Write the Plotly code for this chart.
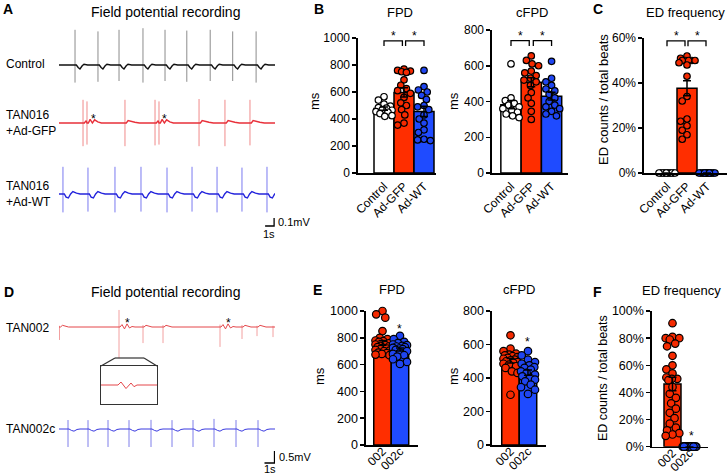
import numpy as np
import plotly.graph_objects as go

W, H = 728, 476
FONT = "Liberation Sans, Arial, Helvetica, sans-serif"

# ---------------- data: panel A recordings (time in s, amplitude in mV) ----------------
ctrl_beats = [1.78, 4.33, 6.67, 9.33, 11.78, 14.2, 16.8, 19.3, 21.9]
ctrl_up = [0.44, 0.42, 0.44, 0.46, 0.44, 0.43, 0.44, 0.42, 0.42]
ctrl_down = [0.22, 0.21, 0.20, 0.22, 0.20, 0.21, 0.20, 0.20, 0.22]
gfp_beats = [2.67, 3.11, 7.33, 10.67, 11.11, 15.56, 18.44, 21.22]
gfp_up = [0.29, 0.27, 0.29, 0.29, 0.27, 0.30, 0.29, 0.29]
gfp_down = [0.29, 0.27, 0.29, 0.28, 0.27, 0.29, 0.29, 0.28]
gfp_ed = [3.11, 11.11]
wt_beats = [0.44, 3.22, 6.22, 9.11, 12.0, 14.78, 17.56, 20.33, 23.11]
wt_up = [0.34, 0.33, 0.34, 0.34, 0.33, 0.34, 0.34, 0.33, 0.34]
wt_down = [0.23, 0.22, 0.23, 0.22, 0.23, 0.22, 0.23, 0.22, 0.23]
# repolarisation waves after each spike: (seconds after spike, mV)
ctrl_wave = [(0.15, 0.0), (0.35, -0.03), (0.55, -0.05), (0.8, -0.01), (1.0, 0.01), (1.4, 0.0)]
gfp_wave = [(0.15, 0.0), (0.35, 0.03), (0.7, 0.025), (1.1, 0.01), (1.6, 0.0)]
gfp_ed_wave = [(0.15, 0.0), (0.35, 0.045), (0.6, 0.0), (0.85, 0.04), (1.2, 0.015), (1.6, 0.0)]
wt_wave = [(0.15, 0.0), (0.35, -0.04), (0.6, -0.05), (0.85, 0.0), (1.1, 0.03), (1.5, 0.01), (1.9, 0.0)]

# ---------------- data: panel D recordings ----------------
d002_beats = [0.05, 6.0, 8.4, 10.4, 16.1, 18.3, 19.8, 21.4]
d002_up = [0.05, 0.71, 0.08, 0.08, 0.10, 0.08, 0.05, 0.05]
d002_down = [0.54, 1.30, 0.67, 0.67, 0.83, 0.50, 0.38, 0.42]
d002_ed = [6.0, 16.1]
d002_wave = [(0.1, 0.0), (0.3, 0.07), (0.6, 0.05), (0.9, 0.0)]
d002_ed_wave = [(0.1, 0.0), (0.3, 0.1), (0.55, -0.08), (0.8, 0.13), (1.05, -0.04), (1.3, 0.02), (1.6, 0.0)]
d002c_beats = [0.9, 2.9, 4.9, 7.0, 9.2, 11.3, 13.4, 15.5, 17.7, 19.9]
d002c_up = [0.375, 0.37, 0.375, 0.37, 0.38, 0.37, 0.375, 0.42, 0.375, 0.37]
d002c_down = [1.08, 1.05, 1.08, 1.06, 1.08, 1.05, 1.08, 1.06, 1.08, 1.05]
d002c_wave = [(0.1, 0.0), (0.35, -0.06), (0.6, -0.09), (0.9, -0.02), (1.2, 0.0)]
# magnified inset (ms, mV)
inset_t = [0, 170, 200, 250, 300, 330, 360, 560]
inset_v = [0.0, 0.0, 0.063, -0.075, 0.042, -0.035, 0.0, 0.0]

# ---------------- data: bar panels ----------------
cat3 = ["Control", "Ad-GFP", "Ad-WT"]
cat2 = ["002", "002c"]
fpd_ctrl = [565, 540, 510, 495, 485, 480, 470, 465, 455, 450, 440, 425, 420]
fpd_gfp = [770, 760, 755, 750, 745, 690, 650, 625, 610, 590, 560, 520, 500, 470, 430, 370, 355]
fpd_wt = [760, 640, 615, 600, 575, 545, 500, 490, 470, 430, 400, 370, 320, 300, 250, 245, 240]
cfpd_ctrl = [610, 420, 405, 390, 380, 370, 360, 350, 340, 330, 320, 310]
cfpd_gfp = [655, 630, 610, 600, 570, 560, 545, 530, 520, 510, 490, 450, 420, 390, 345, 300]
cfpd_wt = [625, 530, 510, 490, 470, 460, 440, 420, 400, 380, 370, 360, 345, 330, 320]
ed_ctrl = [0] * 12
ed_gfp = [52, 51, 50, 50, 50, 50, 50, 49, 48, 43, 34, 32, 24, 23, 21, 19, 17, 15]
ed_wt = [0] * 15
fpd_002 = [1000, 975, 950, 850, 800, 790, 780, 775, 770, 760, 750, 745, 740, 735, 730,
           725, 720, 715, 710, 705, 700, 690, 685, 680, 675, 670]
fpd_002c = [815, 790, 770, 760, 750, 745, 740, 735, 730, 725, 720, 715, 710, 700, 690,
            680, 670, 660, 640, 620, 605]
cfpd_002 = [655, 575, 560, 545, 540, 535, 530, 525, 520, 515, 510, 505, 500, 495, 490,
            485, 480, 470, 460, 440, 430, 300]
cfpd_002c = [560, 535, 510, 495, 485, 475, 465, 460, 450, 440, 430, 420, 410, 400, 390,
             380, 360, 345, 330, 305]
ed_002 = [91, 81, 80, 80, 79, 76, 74, 67, 60, 57, 54, 51, 50, 50, 49, 44, 39, 36, 32, 28,
          25, 21, 17, 14, 12, 10, 9, 8]
ed_002c = [0] * 20

# ---------------- styles ----------------
BAR_RED, BAR_BLUE = "#FF2E00", "#1F4BFF"
DOT_RED, DOT_BLUE = "#F52A00", "#1F45F0"


def px_x(a, b):
    return [a / W, b / W]


def px_y(top, bottom):
    return [1 - bottom / H, 1 - top / H]


def trace_yaxis(top, bottom, base, k):
    return dict(domain=px_y(top, bottom), range=[-(bottom - base) / k, (base - top) / k],
                visible=False, fixedrange=True, automargin=False)


def build_waves(beats, wave, T, ed_beats=(), ed_wave=None):
    t, v = [0.0], [0.0]
    for k, t0 in enumerate(beats):
        nxt = beats[k + 1] if k + 1 < len(beats) else T
        t += [t0]
        v += [0.0]
        w = ed_wave if t0 in ed_beats else wave
        for dt, dv in w:
            if t0 + dt < nxt - 0.02:
                t.append(t0 + dt)
                v.append(dv)
    t.append(T)
    v.append(0.0)
    return t, v


def build_spikes(beats, ups, downs):
    t, v = [], []
    for t0, u, d in zip(beats, ups, downs):
        t += [t0, t0, None]
        v += [u, -d, None]
    return t, v


def swarm(vals, ppx_x, ppx_y, diam, maxoff=0.4):
    vals = np.asarray(vals, float)
    order = np.argsort(-vals, kind="stable")
    cands = sorted(np.round(np.arange(-maxoff, maxoff + 1e-9, 0.04), 3), key=lambda c: (abs(c), c))
    placed = []
    offs = np.zeros(len(vals))
    for idx in order:
        yv = vals[idx] * ppx_y
        chosen, bestc, bestd = None, 0.0, -1.0
        for c in cands:
            xv = c * ppx_x
            d = min([np.hypot(xv - a, yv - b) for a, b in placed], default=1e9)
            if d >= diam * 0.95:
                chosen = c
                break
            if d > bestd:
                bestd, bestc = d, c
        if chosen is None:
            chosen = bestc
        offs[idx] = chosen
        placed.append((chosen * ppx_x, yv))
    return offs


fig = go.Figure()
layout = dict(template="none", width=W, height=H, autosize=False,
              margin=dict(l=0, r=0, t=0, b=0, pad=0, autoexpand=False), showlegend=False,
              paper_bgcolor="white", plot_bgcolor="white",
              font=dict(family=FONT, color="black", size=12))
annotations, shapes = [], []


def ann(x, y, text, size=12, bold=False, xanchor="center", yanchor="middle", angle=0, **kw):
    annotations.append(dict(x=x / W, y=1 - y / H, xref="paper", yref="paper",
                            text=("<b>%s</b>" % text) if bold else text,
                            showarrow=False, xanchor=xanchor, yanchor=yanchor, textangle=angle,
                            borderpad=0, font=dict(size=size, family=FONT, color="black"), **kw))


def add_recording(beats, ups, downs, wave, xa, ya, T, base_col, spike_col, width, edb=(), edw=None):
    t, v = build_spikes(beats, ups, downs)
    fig.add_trace(go.Scatter(x=t, y=v, mode="lines", line=dict(color=spike_col, width=1.0),
                             xaxis=xa, yaxis=ya, hoverinfo="skip", connectgaps=False))
    t, v = build_waves(beats, wave, T, edb, edw)
    fig.add_trace(go.Scatter(x=t, y=v, mode="lines", line=dict(color=base_col, width=width),
                             xaxis=xa, yaxis=ya, hoverinfo="skip"))


# ---------------- Panel A ----------------
TA = 24.0
layout["xaxis"] = dict(domain=px_x(59, 275), range=[0, TA], visible=False, fixedrange=True,
                       anchor="y", automargin=False)
layout["yaxis"] = trace_yaxis(25, 90, 65, 80)
layout["yaxis2"] = dict(trace_yaxis(95, 152, 123, 80), anchor="x")
layout["yaxis3"] = dict(trace_yaxis(160, 215, 194, 80), anchor="x")
layout["yaxis4"] = dict(trace_yaxis(214, 230, 226, 80), anchor="x")
add_recording(ctrl_beats, ctrl_up, ctrl_down, ctrl_wave, "x", "y", TA, "#111111", "#8C8C8C", 1.4)
add_recording(gfp_beats, gfp_up, gfp_down, gfp_wave, "x", "y2", TA, "#E8303A", "#F08A8A", 1.4,
              gfp_ed, gfp_ed_wave)
add_recording(wt_beats, wt_up, wt_down, wt_wave, "x", "y3", TA, "#2424DC", "#7A7AF0", 1.4)
fig.add_trace(go.Scatter(x=[TA - 1.1, TA - 0.1, TA - 0.1], y=[0, 0, 0.1], mode="lines",
                         line=dict(color="black", width=1.3), xaxis="x", yaxis="y4"))
for te in [3.78, 11.67]:
    annotations.append(dict(x=te, y=0.0875, xref="x", yref="y2", text="*", showarrow=False,
                            yshift=-3, font=dict(size=12, family=FONT, color="black")))
ann(277, 222, "0.1mV", size=11, xanchor="left")
ann(269, 234, "1s", size=11)
ann(2, 9, "A", size=14, bold=True, xanchor="left")
ann(165, 12, "Field potential recording", size=14)
ann(5, 64, "Control", xanchor="left")
ann(5, 123, "TAN016<br>+Ad-GFP", xanchor="left", align="left")
ann(5, 194, "TAN016<br>+Ad-WT", xanchor="left", align="left")

# ---------------- Panel D ----------------
TD = 21.6
layout["xaxis2"] = dict(domain=px_x(59, 275), range=[0, TD], visible=False, fixedrange=True,
                        anchor="y5", automargin=False)
layout["yaxis5"] = dict(trace_yaxis(300, 365, 327, 24), anchor="x2")
layout["yaxis6"] = dict(trace_yaxis(410, 462, 429, 24), anchor="x2")
layout["yaxis7"] = dict(trace_yaxis(447, 466, 463, 24), anchor="x2")
add_recording(d002_beats, d002_up, d002_down, d002_wave, "x2", "y5", TD, "#E4474B", "#F2A0A0", 1.0,
              d002_ed, d002_ed_wave)
add_recording(d002c_beats, d002c_up, d002c_down, d002c_wave, "x2", "y6", TD, "#3A3AE0", "#7E7EEA", 1.0)
fig.add_trace(go.Scatter(x=[TD - 1.05, TD - 0.05, TD - 0.05], y=[0, 0, 0.5], mode="lines",
                         line=dict(color="black", width=1.3), xaxis="x2", yaxis="y7"))
for te in [6.8, 16.9]:
    annotations.append(dict(x=te, y=0.29, xref="x2", yref="y5", text="*", showarrow=False,
                            yshift=-3, font=dict(size=12, family=FONT, color="black")))
# inset
layout["xaxis3"] = dict(domain=px_x(101, 157), range=[0, 560], showline=True, mirror=True,
                        linecolor="#333333", linewidth=1.2, ticks="", showticklabels=False,
                        showgrid=False, zeroline=False, anchor="y8", fixedrange=True, automargin=False)
layout["yaxis8"] = dict(domain=px_y(366, 404), range=[-0.4, 0.4], showline=True, mirror=True,
                        linecolor="#333333", linewidth=1.2, ticks="", showticklabels=False,
                        showgrid=False, zeroline=False, anchor="x3", fixedrange=True, automargin=False)
fig.add_trace(go.Scatter(x=inset_t, y=inset_v, mode="lines", line=dict(color="#E4474B", width=1.0),
                         xaxis="x3", yaxis="y8", hoverinfo="skip"))
for (a, b, c, d) in [(101, 366, 115, 358), (115, 358, 144, 358), (144, 358, 157, 366)]:
    shapes.append(dict(type="line", xref="paper", yref="paper", x0=a / W, y0=1 - b / H,
                       x1=c / W, y1=1 - d / H, line=dict(color="#333333", width=1.2)))
ann(278, 457, "0.5mV", size=11, xanchor="left")
ann(270, 469, "1s", size=11)
ann(3, 292, "D", size=14, bold=True, xanchor="left")
ann(165, 292, "Field potential recording", size=14)
ann(5, 328, "TAN002", xanchor="left")
ann(5, 429, "TAN002c", xanchor="left")

# ---------------- bar panels ----------------
# stars: (category position, pixel row of the star glyph)
panels = [
    dict(n=4, xdom=(358, 436), ydom=(38, 173), xr=(-1.3, 2.6), yr=(0, 1000), dtick=200,
         groups=[fpd_ctrl, fpd_gfp, fpd_wt], cats=cat3, bars=["white", BAR_RED, BAR_BLUE],
         dots=["white", DOT_RED, DOT_BLUE], diam=6.5, suffix="", fs=12, xfs=12, so=0,
         brackets=[(0, 0.92, 978, 941), (1.08, 2, 978, 941)], stars=[(0.46, 33), (1.54, 33)]),
    dict(n=5, xdom=(492, 568), ydom=(30, 173), xr=(-0.936, 2.81), yr=(0, 800), dtick=200,
         groups=[cfpd_ctrl, cfpd_gfp, cfpd_wt], cats=cat3, bars=["white", BAR_RED, BAR_BLUE],
         dots=["white", DOT_RED, DOT_BLUE], diam=6.5, suffix="", fs=12, xfs=12, so=0,
         brackets=[(0, 0.9, 740, 711), (1.1, 2, 740, 711)], stars=[(0.45, 33), (1.55, 33)]),
    dict(n=6, xdom=(644, 727), ydom=(38, 173), xr=(-1.15, 3.0), yr=(0, 60), dtick=20,
         groups=[ed_ctrl, ed_gfp, ed_wt], cats=cat3, bars=["white", BAR_RED, BAR_BLUE],
         dots=["white", DOT_RED, DOT_BLUE], diam=6.5, suffix="%", fs=12, xfs=12, so=0,
         brackets=[(0, 0.9, 58.7, 56.3), (1.05, 1.95, 58.7, 56.3)], stars=[(0.45, 33), (1.5, 33)]),
    dict(n=7, xdom=(366, 418), ydom=(311, 445), xr=(-0.943, 2.03), yr=(0, 1000), dtick=200,
         groups=[fpd_002, fpd_002c], cats=cat2, bars=[BAR_RED, BAR_BLUE],
         dots=[DOT_RED, DOT_BLUE], diam=7.5, suffix="", fs=12.5, xfs=12, so=-7, brackets=[],
         stars=[(1, 326)]),
    dict(n=8, xdom=(492, 546), ydom=(311, 445), xr=(-1.057, 2.03), yr=(0, 800), dtick=200,
         groups=[cfpd_002, cfpd_002c], cats=cat2, bars=[BAR_RED, BAR_BLUE],
         dots=[DOT_RED, DOT_BLUE], diam=7.5, suffix="", fs=12.5, xfs=12, so=-7, brackets=[],
         stars=[(1, 339)]),
    dict(n=9, xdom=(652, 708), ydom=(311, 446.7), xr=(-1.206, 2.09), yr=(0, 100), dtick=20,
         groups=[ed_002, ed_002c], cats=cat2, bars=[BAR_RED, BAR_BLUE],
         dots=[DOT_RED, DOT_BLUE], diam=7.5, suffix="%", fs=12.5, xfs=12, so=-7, brackets=[],
         stars=[(1.1, 433)]),
]

for p in panels:
    xn, yn = "x%d" % p["n"], "y%d" % (p["n"] + 5)
    xk, yk = "xaxis%d" % p["n"], "yaxis%d" % (p["n"] + 5)
    k = len(p["groups"])
    layout[xk] = dict(domain=px_x(*p["xdom"]), range=list(p["xr"]), anchor=yn, showline=True,
                      linecolor="black", linewidth=1.6, ticks="", showgrid=False, zeroline=False,
                      tickvals=list(range(k)), ticktext=p["cats"], tickangle=-45, automargin=False,
                      ticklabelstandoff=p["so"],
                      tickfont=dict(size=p["xfs"], family=FONT, color="black"), fixedrange=True)
    layout[yk] = dict(domain=px_y(*p["ydom"]), range=list(p["yr"]), anchor=xn, showline=True,
                      linecolor="black", linewidth=1.6, ticks="outside", ticklen=4, tickwidth=1.5,
                      tickcolor="black", dtick=p["dtick"], ticksuffix=p["suffix"], showgrid=False,
                      zeroline=False, tickfont=dict(size=p["fs"], family=FONT, color="black"),
                      fixedrange=True, automargin=False)
    means = [float(np.mean(g)) for g in p["groups"]]
    sems = [float(np.std(g, ddof=1) / np.sqrt(len(g))) for g in p["groups"]]
    fig.add_trace(go.Bar(x=list(range(k)), y=means, width=1.0, xaxis=xn, yaxis=yn,
                         marker=dict(color=p["bars"], line=dict(color="black", width=1.5))))
    ppx_x = (p["xdom"][1] - p["xdom"][0]) / (p["xr"][1] - p["xr"][0])
    ppx_y = (p["ydom"][1] - p["ydom"][0]) / (p["yr"][1] - p["yr"][0])
    for i, g in enumerate(p["groups"]):
        offs = swarm(g, ppx_x, ppx_y, p["diam"])
        fig.add_trace(go.Scatter(x=list(i + offs), y=g, mode="markers", xaxis=xn, yaxis=yn,
                                 cliponaxis=False,
                                 marker=dict(size=p["diam"], color=p["dots"][i],
                                             line=dict(color="black", width=1.2))))
    fig.add_trace(go.Scatter(x=list(range(k)), y=means, mode="markers", xaxis=xn, yaxis=yn,
                             cliponaxis=False, marker=dict(size=1, color="rgba(0,0,0,0)"),
                             error_y=dict(type="data", array=sems, color="black", thickness=1.5, width=4)))
    for (x0, x1, ytop, ytip) in p["brackets"]:
        shapes.append(dict(type="path", xref=xn, yref=yn,
                           path="M %g,%g L %g,%g L %g,%g L %g,%g" % (x0, ytip, x0, ytop, x1, ytop, x1, ytip),
                           line=dict(color="black", width=1.3)))
    for (sx, sy) in p["stars"]:
        ann(p["xdom"][0] + (sx - p["xr"][0]) * ppx_x, sy, "*", size=12, yshift=-3)

# panel titles / letters / axis titles
ann(313, 9, "B", size=14, bold=True, xanchor="left")
ann(400, 12, "FPD", size=13)
ann(532, 12, "cFPD", size=13)
ann(314, 101, "ms", size=13, angle=-90)
ann(453, 101, "ms", size=13, angle=-90)
ann(592, 9, "C", size=14, bold=True, xanchor="left")
ann(685, 12, "ED frequency", size=13)
ann(603, 100, "ED counts / total beats", size=13, angle=-90)
ann(312, 290, "E", size=14, bold=True, xanchor="left")
ann(392, 289, "FPD", size=13)
ann(519, 289, "cFPD", size=13)
ann(319, 376, "ms", size=13, angle=-90)
ann(453, 376, "ms", size=13, angle=-90)
ann(592, 292, "F", size=14, bold=True, xanchor="left")
ann(681, 290, "ED frequency", size=13)
ann(603, 378, "ED counts / total beats", size=12.5, angle=-90)

layout["annotations"] = annotations
layout["shapes"] = shapes
fig.update_layout(**layout)
fig.write_html("out.html", config={"displayModeBar": False, "staticPlot": True},
               post_script="document.body.style.margin='0';document.body.style.padding='0';"
                           "document.body.style.overflow='hidden';")
